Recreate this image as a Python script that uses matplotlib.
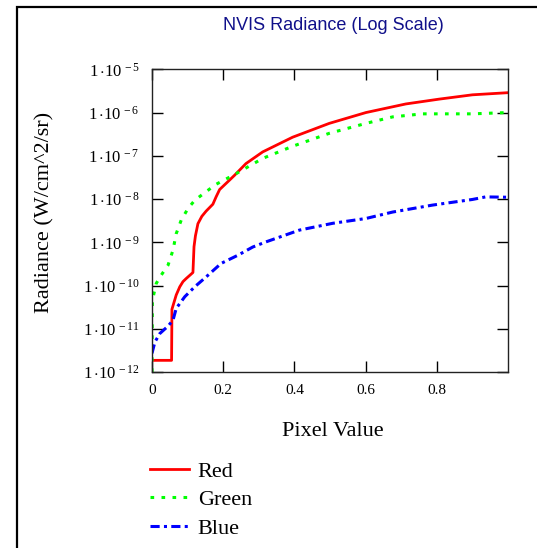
import matplotlib
matplotlib.use("Agg")
import matplotlib.pyplot as plt
from matplotlib.patches import Rectangle
from matplotlib.ticker import FixedLocator, FixedFormatter, NullLocator

plt.rcParams['mathtext.fontset'] = 'custom'
plt.rcParams['mathtext.rm'] = 'Liberation Serif'
plt.rcParams['mathtext.it'] = 'Liberation Serif'

# ---- data ----
red_x = [0, 0.055, 0.056, 0.068, 0.078, 0.087, 0.096, 0.115, 0.118, 0.122, 0.129,
         0.140, 0.152, 0.171, 0.180, 0.190, 0.218, 0.232, 0.264, 0.311, 0.395,
         0.498, 0.601, 0.713, 0.806, 0.900, 1.0]
red_y = [1.86e-12, 1.86e-12, 2.82e-11, 6.03e-11, 9.33e-11, 1.23e-10, 1.45e-10,
         2.0e-10, 7.9e-10, 1.41e-9, 2.69e-9, 3.98e-9, 5.25e-9, 7.59e-9, 1.12e-8,
         1.66e-8, 2.75e-8, 3.55e-8, 6.61e-8, 1.23e-7, 2.69e-7, 5.62e-7, 1.0e-6,
         1.58e-6, 2.04e-6, 2.57e-6, 2.88e-6]

green_x = [0.0, 0.001, 0.012, 0.026, 0.045, 0.059, 0.068, 0.082, 0.101, 0.120,
           0.152, 0.180, 0.237, 0.311, 0.395, 0.498, 0.601, 0.676, 0.760, 0.900, 1.0]
green_y = [1.0e-12, 4.5e-11, 1.12e-10, 1.74e-10, 2.95e-10, 6.6e-10, 1.58e-9,
           3.24e-9, 6.03e-9, 9.33e-9, 1.48e-8, 2.19e-8, 3.89e-8, 8.71e-8, 1.66e-7,
           3.31e-7, 5.62e-7, 7.94e-7, 9.33e-7, 9.33e-7, 1.0e-6]

blue_x = [0.0, 0.008, 0.022, 0.045, 0.059, 0.068, 0.092, 0.120, 0.152, 0.194,
          0.241, 0.283, 0.320, 0.414, 0.508, 0.601, 0.676, 0.788, 0.900, 0.937, 1.0]
blue_y = [2.7e-12, 4.9e-12, 7.76e-12, 1.15e-11, 1.58e-11, 2.95e-11, 5.5e-11,
          9.33e-11, 1.58e-10, 3.24e-10, 5.0e-10, 7.76e-10, 1.02e-9, 1.91e-9,
          2.75e-9, 3.55e-9, 5.0e-9, 7.24e-9, 9.77e-9, 1.12e-8, 1.1e-8]

x_ticks = [0, 0.2, 0.4, 0.6, 0.8]
x_tick_labels = ["0", "0.2", "0.4", "0.6", "0.8"]
y_exponents = [-12, -11, -10, -9, -8, -7, -6, -5]

title = "NVIS Radiance (Log Scale)"
x_label = "Pixel Value"
y_label = "Radiance (W/cm^2/sr)"
series_names = ["Red", "Green", "Blue"]

# ---- figure ----
W, H = 537, 548
fig = plt.figure(figsize=(W / 100, H / 100), dpi=100)
fig.patch.set_facecolor("white")

# outer frame
fig.patches.append(Rectangle((17 / W, -0.1), 1.2, 1.1 - 7 / H, transform=fig.transFigure,
                             fill=False, edgecolor="black", linewidth=1.6))

ax = fig.add_axes([152 / W, 1 - 372 / H, 356 / W, (372 - 69.3) / H])
ax.set_yscale("log")
ax.set_xlim(0, 1.0)
ax.set_ylim(1e-12, 1e-5)

serif = "Liberation Serif"
l1, = ax.plot(red_x, red_y, color="#ff0000", lw=2.0, solid_joinstyle="round")
l2, = ax.plot(green_x, green_y, color="#00ff00", lw=2.2, linestyle=(0, (1.2, 2.4)))
l3, = ax.plot(blue_x, blue_y, color="#0000ff", lw=2.2, linestyle=(0, (3, 1.4, 1, 1.4)))

ax.xaxis.set_major_locator(FixedLocator(x_ticks))
ax.xaxis.set_major_formatter(FixedFormatter(x_tick_labels))
ax.xaxis.set_minor_locator(NullLocator())
yt = [10.0 ** e for e in y_exponents]
ax.yaxis.set_major_locator(FixedLocator(yt))
ax.yaxis.set_major_formatter(FixedFormatter(
    [r"$1\,{\cdot}10^{\,%d}$" % e for e in y_exponents]))
ax.yaxis.set_minor_locator(NullLocator())

ax.tick_params(which="both", direction="in", top=True, right=True, length=8,
               width=1.0, color="black", labelsize=11)
ax.tick_params(axis="y", labelsize=12, pad=9)
ax.tick_params(axis="x", pad=9)
for lab in ax.get_xticklabels():
    lab.set_fontfamily(serif)
for sp in ax.spines.values():
    sp.set_linewidth(1.0)
    sp.set_color("#222222")

fig.text(333 / W, 1 - 26 / H, title, ha="center", va="center", color="#10108a",
         fontsize=13, family="Liberation Sans")
fig.text(333 / W, 1 - 432 / H, x_label, ha="center", va="center", fontsize=16, family=serif)
fig.text(45 / W, 1 - 212 / H, y_label, ha="center", va="center", rotation=90,
         fontsize=16, family=serif)

leg = fig.legend([l1, l2, l3], series_names, loc="upper left",
                 bbox_to_anchor=(150 / W, 1 - 461 / H), frameon=False,
                 prop={"family": serif, "size": 16}, handlelength=1.75,
                 handletextpad=0.4, labelspacing=0.36, borderpad=0, borderaxespad=0)

fig.savefig("out.png", dpi=100, facecolor="white")
